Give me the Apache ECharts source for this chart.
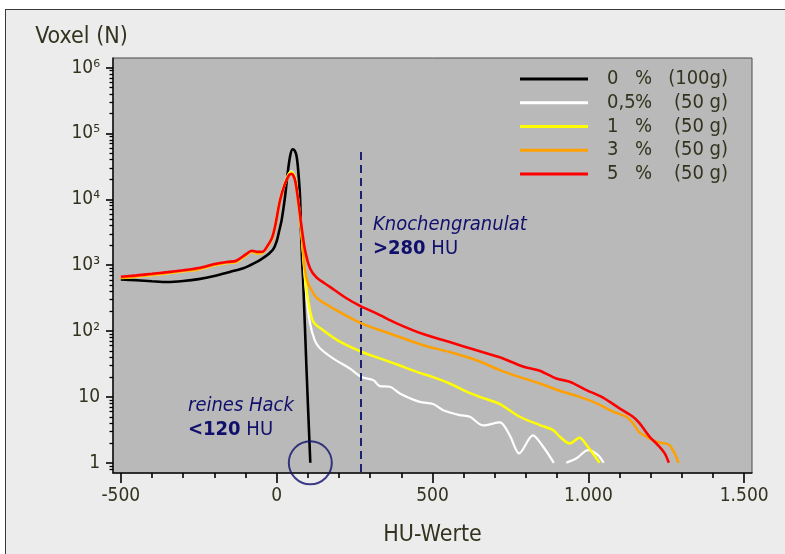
<!DOCTYPE html>
<html><head><meta charset="utf-8">
<script src="https://cdn.jsdelivr.net/npm/echarts@6/dist/echarts.min.js"></script>
<style>
html,body{margin:0;padding:0;background:#fff;overflow:hidden;width:785px;height:554px}
#frame{position:absolute;left:5px;top:9px;width:800px;height:560px;background:#ececec;border-left:1px solid #3a3a3a;border-top:1px solid #3a3a3a}
#c{position:absolute;left:0;top:0;width:785px;height:554px}
</style>
</head><body><div id="frame"></div><div id="c"></div>
<script>
// ---- data ----
const seriesNames = ['0 % (100g)', '0,5% (50 g)', '1 % (50 g)', '3 % (50 g)', '5 % (50 g)'];
const legendPct = ['0', '0,5', '1', '3', '5'];
const legendMass = ['(100g)', '(50 g)', '(50 g)', '(50 g)', '(50 g)'];
const seriesColors = ['#000000', '#ffffff', '#ffff00', '#ffa000', '#ff0000'];

const huBlack = [-500,-450,-400,-350,-300,-250,-200,-150,-107,-85,-64,-50,-32,-11,0,8,16,27,34,43,51,58,64,69,75,78,82,85,96,108];
const voxBlack = [610,590,570,555,575,615,685,790,900,1000,1120,1230,1400,1750,2300,3300,4840,11000,22000,44600,57500,55000,45000,28000,11000,3400,1070,590,25,1];

const huWhite = [-500,-450,-400,-350,-300,-250,-200,-160,-130,-100,-80,-60,-45,-30,-15,-5,11,27,40,48,59,69,80,94,106,122,139,181,235,272,310,331,363,395,459,502,534,587,620,662,716,748,778,822,855,889,910,929,962,999,1031,1049];
const voxWhite = [640,670,710,755,810,865,1000,1080,1120,1390,1600,1490,1550,1900,2500,3900,10000,18500,25000,26500,21000,10000,3000,400,140,73,55,38.5,27,20,18,14.6,14.3,11.3,8.4,7.8,6.3,5.3,5.0,3.7,4.1,2.6,1.39,2.6,1.75,1,null,1,1.17,1.56,1.31,1];

const huYellow = [-500,-450,-400,-350,-300,-250,-200,-160,-130,-100,-80,-60,-45,-30,-15,-5,11,27,40,48,59,69,80,91,101,117,149,203,272,331,395,449,502,555,609,652,716,780,844,887,908,940,972,994,1036];
const voxYellow = [640,670,710,755,810,865,1000,1080,1120,1390,1600,1490,1550,1900,2500,3850,9800,18000,24500,26000,21000,10000,3000,650,295,140,103,69,48.5,38.5,30,24,20,16,12,10,7.8,5,3.74,3.14,2.5,1.97,2.4,1.86,1];

const huOrange = [-500,-450,-400,-350,-300,-250,-200,-160,-130,-100,-80,-60,-45,-30,-15,-5,11,27,40,48,59,69,80,91,100,112,128,181,272,363,470,555,641,716,780,844,908,972,1026,1079,1122,1143,1164,1196,1218,1245,1260,1277,1289];
const voxOrange = [645,675,715,760,815,870,1010,1090,1130,1400,1620,1500,1560,1900,2500,3800,9600,17200,23200,24300,19200,9200,3100,850,540,420,320,221,131,92,61,48,36,25.6,20,16,12.4,10,8,6,5,4,2.9,2.35,2.1,1.97,1.86,1.39,1];

const huRed = [-500,-450,-400,-350,-300,-250,-200,-160,-130,-100,-80,-60,-45,-30,-15,-5,11,27,40,48,59,69,80,91,107,128,171,224,272,320,385,470,555,641,716,790,844,897,940,994,1047,1100,1143,1164,1196,1223,1245,1258];
const voxRed = [668,700,740,785,840,905,1040,1120,1170,1450,1660,1600,1600,1950,2600,3900,9800,17500,23400,24500,19600,9800,3800,1700,900,650,470,315,235,186,131,90,68,51,40,29,25,19,17,12.7,9.8,6.7,5.0,4.0,2.5,1.86,1.39,1];

const xTickMajor = [-500, 0, 500, 1000, 1500];
const xTickMinor = [-400,-300,-200,-100,100,200,300,400,600,700,800,900,1100,1200,1300,1400];
const yDecades = [0, 1, 2, 3, 4, 5, 6];           // exponents of the labelled ticks
const boneThreshold = 271;                         // dashed line position (HU)
const circleMark = [108, 1];                       // circled end of the 0 % curve

// ---- styling ----
const FONT = "'DejaVu Sans Condensed', 'DejaVu Sans', sans-serif";
const TXT = '#33331f';
const NAVY = '#10106c';
const yMinV = 0.7, yMaxV = 1.4e6;
const lo = Math.log10(yMinV), hi = Math.log10(yMaxV);
const yMinor = [];
yDecades.forEach(function (d) { for (let k = 2; k <= 9; k++) { const v = d + Math.log10(k); if (v < hi) yMinor.push(v); } });
yMinor.push(Math.log10(0.8), Math.log10(0.9));

const pairs = (xs, ys) => xs.map((x, i) => [x, ys[i]]);
const allData = [pairs(huBlack, voxBlack), pairs(huWhite, voxWhite), pairs(huYellow, voxYellow), pairs(huOrange, voxOrange), pairs(huRed, voxRed)];
const widths = [2.6, 2.2, 2.5, 2.5, 2.6];
const sup = ['\u2070', '\u00b9', '\u00b2', '\u00b3', '\u2074', '\u2075', '\u2076'];

const legendText = {};
seriesNames.forEach(function (n, i) { legendText[n] = '{a|' + legendPct[i] + '}{b|%}{c|' + legendMass[i] + '}'; });

const lineSeries = seriesNames.map(function (n, i) {
  return {
    type: 'line', name: n, data: allData[i], xAxisIndex: 0, yAxisIndex: 0,
    showSymbol: false, symbol: 'none', smooth: 0.3, connectNulls: false,
    lineStyle: { color: seriesColors[i], width: widths[i] }, itemStyle: { color: seriesColors[i] },
    emphasis: { disabled: true }, animation: false, z: 2 + i
  };
});

const chart = echarts.init(document.getElementById('c'), null, { renderer: 'canvas' });
const legendFont = { fontFamily: FONT, fontSize: 20, color: TXT, lineHeight: 20 };
chart.setOption({
  animation: false,
  backgroundColor: 'transparent',
  grid: { left: 113, top: 58, width: 639, height: 415, show: true, backgroundColor: '#b9b9b9', borderColor: '#4a4a4a', borderWidth: 1 },
  xAxis: [
    { type: 'value', min: -525, max: 1525, position: 'bottom',
      name: 'HU-Werte', nameLocation: 'middle', nameGap: 51,
      nameTextStyle: { fontFamily: FONT, fontSize: 23, color: TXT, lineHeight: 23 },
      axisLine: { show: true, onZero: false, lineStyle: { color: '#111', width: 1.5 } },
      axisTick: { show: true, customValues: xTickMajor, length: 10, lineStyle: { color: '#000', width: 1.6 } },
      axisLabel: { show: true, customValues: xTickMajor, margin: 14, fontFamily: FONT, fontSize: 19, lineHeight: 19, color: TXT,
        formatter: function (v) { return Math.abs(v) >= 1000 ? String(v).replace(/(\d)(\d{3})$/, '$1.$2') : String(v); } },
      splitLine: { show: false } },
    { type: 'value', min: -525, max: 1525, position: 'bottom', offset: 0,
      axisLine: { show: false, onZero: false },
      axisTick: { show: true, customValues: xTickMinor, length: 5, lineStyle: { color: '#000', width: 1.6 } },
      axisLabel: { show: false }, splitLine: { show: false } }
  ],
  yAxis: [
    { type: 'log', logBase: 10, min: yMinV, max: yMaxV, position: 'left', show: false, axisLine: { onZero: false }, splitLine: { show: false } },
    { type: 'value', min: lo, max: hi, position: 'left', offset: 0,
      name: 'Voxel (N)', nameLocation: 'end', nameGap: 9,
      nameTextStyle: { fontFamily: FONT, fontSize: 23, color: TXT, lineHeight: 23, padding: [0, 63, 0, 0] },
      axisLine: { show: true, onZero: false, lineStyle: { color: '#111', width: 1.5 } },
      axisTick: { show: true, customValues: yDecades, length: 7, lineStyle: { color: '#000', width: 1.6 } },
      axisLabel: { show: true, customValues: yDecades, margin: 13, fontFamily: FONT, fontSize: 19, color: TXT,
        formatter: function (v) { const e = Math.round(v); return e === 0 ? '1' : (e === 1 ? '10' : '10' + sup[e]); } },
      splitLine: { show: false } },
    { type: 'value', min: lo, max: hi, position: 'left', offset: 0,
      axisLine: { show: false, onZero: false },
      axisTick: { show: true, customValues: yMinor, length: 3.5, lineStyle: { color: '#000', width: 1.3 } },
      axisLabel: { show: false }, splitLine: { show: false } }
  ],
  legend: {
    data: seriesNames, orient: 'vertical', left: 515, top: 64, itemWidth: 68, itemHeight: 3, itemGap: 3.75,
    icon: 'rect', selectedMode: false,
    formatter: function (n) { return legendText[n]; },
    textStyle: Object.assign({}, legendFont, {
      rich: {
        a: Object.assign({}, legendFont, { width: 28, padding: [0, 0, 0, 14] }),
        b: Object.assign({}, legendFont, { width: 19 }),
        c: Object.assign({}, legendFont, { width: 74, align: 'right' })
      }
    })
  },
  series: lineSeries.concat([{
    type: 'scatter', name: 'marker', data: [circleMark], xAxisIndex: 0, yAxisIndex: 0,
    symbol: 'circle', symbolSize: 43, clip: false, silent: true, z: 10,
    itemStyle: { color: 'rgba(0,0,0,0)', borderColor: NAVY, borderWidth: 2 },
    markLine: { symbol: 'none', silent: true, label: { show: false }, animation: false,
      lineStyle: { type: [8, 5], color: '#1a2270', width: 2 },
      data: [[{ coord: [boneThreshold, 52500] }, { coord: [boneThreshold, yMinV] }]] }
  }]),
  graphic: [
    { type: 'text', x: 373, y: 225, z: 20, silent: true, style: { text: 'Knochengranulat', fontFamily: FONT, fontSize: 20, fontStyle: 'italic', fill: NAVY, verticalAlign: 'middle' } },
    { type: 'text', x: 373, y: 249, z: 20, silent: true, style: { text: '{b|>280} HU', fontFamily: FONT, fontSize: 20, fill: NAVY, verticalAlign: 'middle',
        rich: { b: { fontFamily: FONT, fontSize: 20, fontWeight: 'bold', fill: NAVY, color: NAVY } } } },
    { type: 'text', x: 188, y: 406, z: 20, silent: true, style: { text: 'reines Hack', fontFamily: FONT, fontSize: 20, fontStyle: 'italic', fill: NAVY, verticalAlign: 'middle' } },
    { type: 'text', x: 188, y: 430, z: 20, silent: true, style: { text: '{b|<120} HU', fontFamily: FONT, fontSize: 20, fill: NAVY, verticalAlign: 'middle',
        rich: { b: { fontFamily: FONT, fontSize: 20, fontWeight: 'bold', fill: NAVY, color: NAVY } } } }
  ]
});
</script></body></html>
